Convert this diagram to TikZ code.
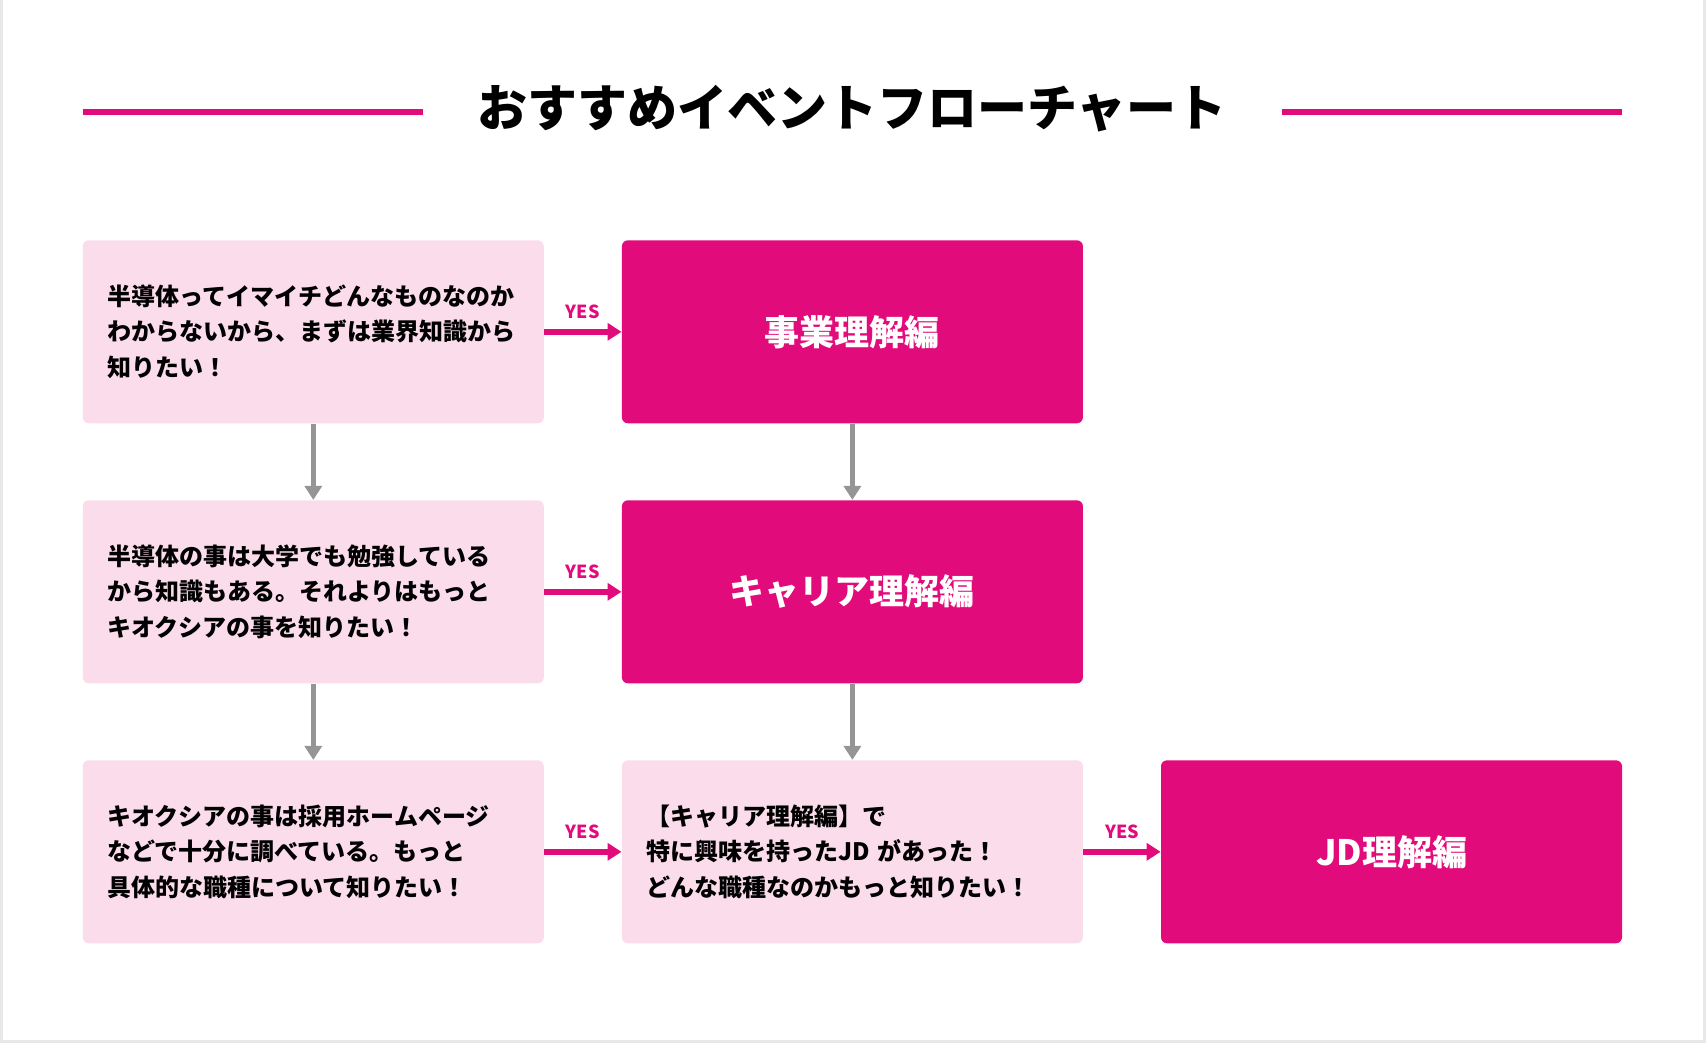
\documentclass[tikz,border=0pt]{standalone}
\usepackage{fontspec}
\setmainfont{Noto Sans CJK JP}
\usetikzlibrary{arrows.meta}
\definecolor{kxpink}{HTML}{E20B7B}
\definecolor{kxlight}{HTML}{FADCEB}
\definecolor{kxgrey}{HTML}{959595}
\begin{document}
\begin{tikzpicture}[x = .5pt, y = -.5pt,
	question/.style = {fill = kxlight, rounded corners = 3pt, minimum height = 91.5pt, text width = 206pt, inner xsep = 12.25pt, align = left, font = \bfseries\fontsize{12}{17.9}\selectfont},
	answer/.style = {fill = kxpink, rounded corners = 3pt, minimum width = 230.5pt, minimum height = 91.5pt, text = white, font = \bfseries\fontsize{17.5}{21}\selectfont},
	yesarrow/.style = {-{Triangle[length = 7pt, width = 8.5pt]}, line width = 3pt, kxpink},
	yeslabel/.style = {above = 1.5pt, text = kxpink, font = \bfseries\fontsize{9}{10}\selectfont},
	downarrow/.style = {-{Triangle[length = 7pt, width = 8.5pt]}, line width = 2.75pt, kxgrey}]
	\useasboundingbox (0,0) rectangle (1706,1043);
	\draw[gray!18, line width = 1.5pt] (1.5,0) -- (1.5,1041.5) -- (1704.5,1041.5) -- (1704.5,0); %frame
	% title
	\node (title) at (852,109) {\bfseries\fontsize{25}{30}\selectfont おすすめイベントフローチャート};
	\draw[kxpink, line width = 2.75pt] (82.7,112) -- (423,112);
	\draw[kxpink, line width = 2.75pt] (1282,112) -- (1622,112);
	% left column
	\node[question] (q1) at (313.3,331.8) {半導体ってイマイチどんなものなのか\\わからないから、まずは業界知識から\\知りたい！};
	\node[question] (q2) at (313.3,591.8) {半導体の事は大学でも勉強している\\から知識もある。それよりはもっと\\キオクシアの事を知りたい！};
	\node[question] (q3) at (313.3,851.8) {キオクシアの事は採用ホームページ\\などで十分に調べている。もっと\\具体的な職種について知りたい！};
	% middle column
	\node[answer] (a1) at (852.4,331.8) {事業理解編};
	\node[answer] (a2) at (852.4,591.8) {キャリア理解編};
	\node[question] (q4) at (852.4,851.8) {【キャリア理解編】で\\特に興味を持ったJD があった！\\どんな職種なのかもっと知りたい！};
	% right column
	\node[answer] (a3) at (1391.5,851.8) {JD理解編};
	% arrows
	\draw[yesarrow] (q1) -- node[yeslabel] {YES} (a1);
	\draw[yesarrow] (q2) -- node[yeslabel] {YES} (a2);
	\draw[yesarrow] (q3) -- node[yeslabel] {YES} (q4);
	\draw[yesarrow] (q4) -- node[yeslabel] {YES} (a3);
	\draw[downarrow] (q1) -- (q2);
	\draw[downarrow] (q2) -- (q3);
	\draw[downarrow] (a1) -- (a2);
	\draw[downarrow] (a2) -- (q4);
\end{tikzpicture}
\end{document}
